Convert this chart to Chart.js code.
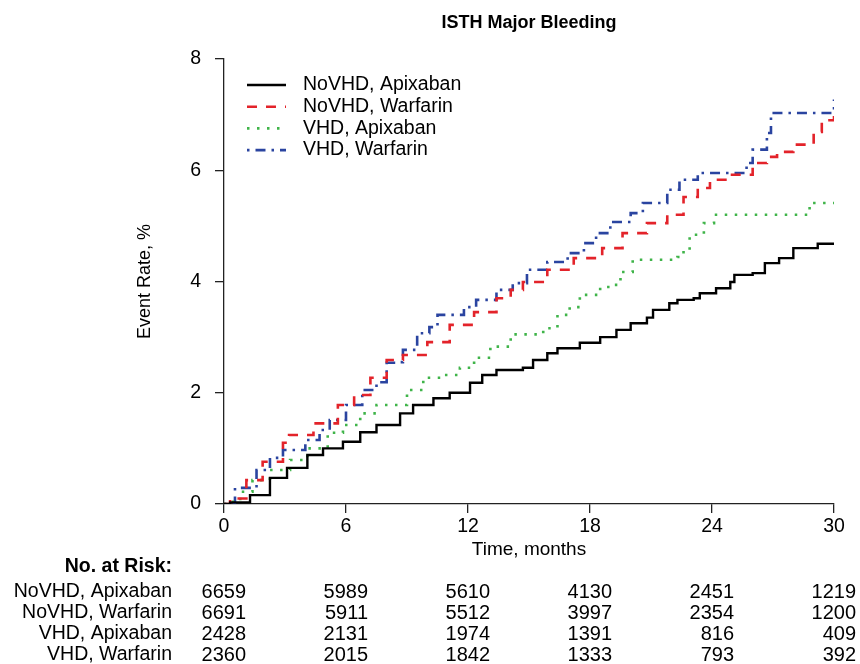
<!DOCTYPE html>
<html>
<head>
<meta charset="utf-8">
<script src="https://cdn.jsdelivr.net/npm/chart.js@4/dist/chart.umd.min.js"></script>
<style>
  html, body { margin: 0; padding: 0; background: #fff; }
  #wrap { width: 860px; height: 664px; position: relative; }
</style>
</head>
<body>
<div id="wrap"><canvas id="kmChart" width="860" height="664"></canvas></div>
<script>
// Cumulative event rate (%), by month
const noVhdApixMonths = [0, 0.3, 1.28, 2.26, 3.1, 4.1, 4.87, 5.85, 6.7, 7.5, 8.66, 9.3, 10.3, 11.1, 12.1, 12.7, 13.4, 14.7, 15.2, 15.9, 16.4, 17.5, 18.5, 19.3, 20.0, 20.8, 21.1, 21.9, 22.3, 23.1, 23.4, 24.2, 24.9, 25.1, 26.0, 26.6, 27.3, 28.0, 29.1, 29.2, 30];
const noVhdApixRates = [0, 0.03, 0.16, 0.47, 0.65, 0.88, 1.0, 1.12, 1.29, 1.42, 1.63, 1.78, 1.9, 2.0, 2.18, 2.32, 2.41, 2.45, 2.59, 2.71, 2.8, 2.9, 3.0, 3.13, 3.25, 3.35, 3.49, 3.61, 3.67, 3.7, 3.79, 3.88, 3.99, 4.12, 4.15, 4.33, 4.42, 4.6, 4.6, 4.68, 4.68];

const noVhdWarfMonths = [0, 0.3, 1.1, 1.9, 2.9, 3.2, 4.4, 5.6, 6.4, 7.2, 8.0, 8.8, 10.0, 11.1, 12.3, 13.4, 14.1, 14.7, 15.9, 17.2, 18.6, 19.6, 20.8, 21.8, 22.6, 23.3, 23.9, 24.9, 26.0, 26.7, 27.2, 28.0, 29.0, 29.4, 30];
const noVhdWarfRates = [0, 0.1, 0.43, 0.76, 1.1, 1.24, 1.45, 1.78, 1.96, 2.27, 2.59, 2.68, 2.91, 3.22, 3.45, 3.7, 3.85, 3.99, 4.21, 4.42, 4.6, 4.87, 5.05, 5.2, 5.52, 5.68, 5.83, 5.92, 6.13, 6.24, 6.33, 6.46, 6.69, 6.9, 6.98];

const vhdApixMonths = [0, 0.1, 0.8, 1.4, 2.26, 3.25, 4.1, 5.1, 5.85, 6.7, 7.5, 7.8, 9.0, 9.8, 10.8, 11.6, 12.3, 13.1, 14.1, 15.7, 16.4, 17.0, 17.5, 18.5, 19.1, 19.5, 20.1, 22.3, 22.6, 22.9, 23.6, 24.1, 28.8, 30];
const vhdApixRates = [0, 0.04, 0.22, 0.43, 0.61, 0.79, 1.0, 1.28, 1.42, 1.63, 1.78, 1.78, 2.05, 2.27, 2.32, 2.45, 2.63, 2.83, 3.05, 3.16, 3.4, 3.54, 3.76, 3.9, 3.94, 4.17, 4.39, 4.44, 4.57, 4.84, 5.05, 5.2, 5.41, 5.41];

const vhdWarfMonths = [0, 0.54, 1.6, 2.26, 2.9, 4.0, 4.7, 5.2, 6.0, 6.8, 7.5, 8.0, 8.6, 8.8, 9.5, 10.1, 10.5, 11.3, 11.8, 12.4, 13.4, 14.2, 14.9, 15.9, 16.9, 17.7, 18.3, 19.0, 20.0, 20.6, 21.8, 22.4, 23.3, 25.5, 25.7, 26.0, 26.7, 26.9, 29.9, 30];
const vhdWarfRates = [0, 0.29, 0.61, 0.83, 0.97, 1.15, 1.33, 1.51, 1.78, 2.05, 2.19, 2.54, 2.55, 2.77, 3.07, 3.18, 3.4, 3.4, 3.54, 3.67, 3.85, 3.97, 4.21, 4.35, 4.51, 4.69, 4.87, 5.07, 5.23, 5.41, 5.65, 5.83, 5.95, 5.95, 6.13, 6.37, 6.67, 7.03, 7.03, 7.27];

const seriesNames = ["NoVHD, Apixaban", "NoVHD, Warfarin", "VHD, Apixaban", "VHD, Warfarin"];

// Numbers at risk
const riskMonths = [0, 6, 12, 18, 24, 30];
const riskNoVhdApix = [6659, 5989, 5610, 4130, 2451, 1219];
const riskNoVhdWarf = [6691, 5911, 5512, 3997, 2354, 1200];
const riskVhdApix = [2428, 2131, 1974, 1391, 816, 409];
const riskVhdWarf = [2360, 2015, 1842, 1333, 793, 392];

const FONT = "'Liberation Sans', Arial, Helvetica, sans-serif";

const styles = [
  { color: "#000000", dash: [], width: 2.4, cap: "butt" },
  { color: "#e3232a", dash: [10, 9], width: 2.6, cap: "butt" },
  { color: "#3fb449", dash: [2.5, 7.5], width: 2.6, cap: "butt" },
  { color: "#2a44a0", dash: [2.5, 6, 10, 6], width: 2.6, cap: "butt" }
];

function toPoints(xs, ys) {
  return xs.map((x, i) => ({ x: x, y: ys[i] }));
}

const allSeries = [
  toPoints(noVhdApixMonths, noVhdApixRates),
  toPoints(noVhdWarfMonths, noVhdWarfRates),
  toPoints(vhdApixMonths, vhdApixRates),
  toPoints(vhdWarfMonths, vhdWarfRates)
];

// Title, axis titles, legend and the at-risk table
const extrasPlugin = {
  id: "extras",
  afterDraw(chart) {
    const ctx = chart.ctx;
    const xs = chart.scales.x;
    const area = chart.chartArea;
    const midX = (area.left + area.right) / 2;
    ctx.save();
    ctx.fillStyle = "#000";
    ctx.textBaseline = "middle";

    ctx.font = "bold 18px " + FONT;
    ctx.textAlign = "center";
    ctx.fillText("ISTH Major Bleeding", midX, 23);

    ctx.font = "19px " + FONT;
    ctx.fillText("Time, months", midX, 550);

    ctx.save();
    ctx.font = "18px " + FONT;
    ctx.translate(145, (area.top + area.bottom) / 2);
    ctx.rotate(-Math.PI / 2);
    ctx.fillText("Event Rate, %", 0, 0);
    ctx.restore();

    // legend
    ctx.font = "19.5px " + FONT;
    ctx.textAlign = "left";
    seriesNames.forEach((name, i) => {
      const y = 85 + i * 21.7;
      const s = styles[i];
      ctx.save();
      ctx.strokeStyle = s.color;
      ctx.lineWidth = s.width;
      ctx.setLineDash(s.dash);
      ctx.lineCap = s.cap;
      ctx.beginPath();
      ctx.moveTo(247, y);
      ctx.lineTo(286, y);
      ctx.stroke();
      ctx.restore();
      ctx.fillText(name, 303, y);
    });

    // number at risk
    ctx.textAlign = "right";
    ctx.font = "bold 19.5px " + FONT;
    ctx.fillText("No. at Risk:", 172, 567);
    const rows = [riskNoVhdApix, riskNoVhdWarf, riskVhdApix, riskVhdWarf];
    rows.forEach((row, r) => {
      const y = 592 + r * 21;
      ctx.font = "19.5px " + FONT;
      ctx.fillText(seriesNames[r], 172, y);
      ctx.font = "20px " + FONT;
      row.forEach((n, c) => {
        ctx.fillText(String(n), xs.getPixelForValue(riskMonths[c]) + 22, y);
      });
    });
    ctx.restore();
  }
};

new Chart(document.getElementById("kmChart"), {
  type: "line",
  data: {
    datasets: allSeries.map((pts, i) => ({
      label: seriesNames[i],
      data: pts,
      borderColor: styles[i].color,
      borderWidth: styles[i].width,
      borderDash: styles[i].dash,
      borderCapStyle: styles[i].cap,
      stepped: true,
      pointRadius: 0,
      fill: false
    }))
  },
  options: {
    responsive: false,
    animation: false,
    layout: { padding: { top: 59, right: 26, bottom: 120, left: 0 } },
    plugins: { legend: { display: false }, title: { display: false }, tooltip: { enabled: false } },
    scales: {
      x: {
        type: "linear",
        min: 0,
        max: 30,
        afterFit: (scale) => { scale.height = 40; },
        ticks: { stepSize: 6, color: "#000", padding: 2, font: { family: FONT, size: 19.5 } },
        grid: { drawOnChartArea: false, tickLength: 9, color: "#222", lineWidth: 1.3 },
        border: { color: "#222", width: 1.3 }
      },
      y: {
        min: 0,
        max: 8,
        afterFit: (scale) => { scale.width = 224; },
        ticks: { stepSize: 2, color: "#000", padding: 14, font: { family: FONT, size: 19.5 } },
        grid: { drawOnChartArea: false, tickLength: 9, color: "#222", lineWidth: 1.3 },
        border: { color: "#222", width: 1.3 }
      }
    }
  },
  plugins: [extrasPlugin]
});
</script>
</body>
</html>
